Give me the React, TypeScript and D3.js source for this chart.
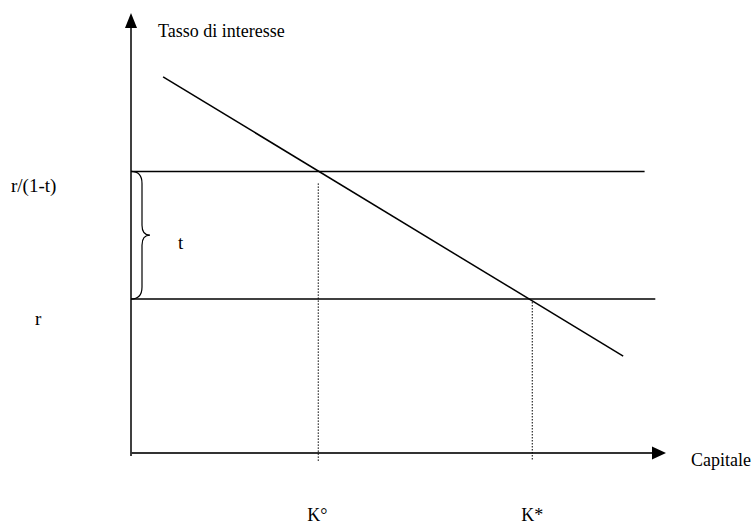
import React from "react";
import * as d3 from "d3";

// Conceptual units (0–100 on both axes)
const levelLabels = ["r/(1-t)", "r"];
const levelValues = [64, 35];          // r/(1-t), r
const levelEnds = [96, 98];            // where each horizontal line stops
const kLabels = ["K°", "K*"];
const kValues = [35, 75];
const demandX = [6, 92];
const demandY = [85.5, 22];
const axisLabelY = "Tasso di interesse";
const axisLabelX = "Capitale";
const braceLabel = "t";

const W = 754;
const H = 528;
const FONT = "'Liberation Serif', 'Times New Roman', Times, serif";

export default function App() {
  const x = d3.scaleLinear().domain([0, 100]).range([131, 666]);
  const y = d3.scaleLinear().domain([0, 100]).range([453, 13]);

  const demand = d3.line<number>()
    .x((_, i) => x(demandX[i]))
    .y((d) => y(d))(demandY) as string;

  const yTop = y(levelValues[0]);
  const yBot = y(levelValues[1]);
  const bx0 = x(0);
  const bmid = (yTop + yBot) / 2;
  const bw = 11;
  const tipX = bx0 + 19;
  const brace = `M${bx0},${yTop} Q${bx0 + bw},${yTop} ${bx0 + bw},${yTop + 12} L${bx0 + bw},${bmid - 10} Q${bx0 + bw},${bmid} ${tipX},${bmid} Q${bx0 + bw},${bmid} ${bx0 + bw},${bmid + 10} L${bx0 + bw},${yBot - 12} Q${bx0 + bw},${yBot} ${bx0},${yBot}`;

  const x0 = x(0);
  const y0 = y(0);
  const yTip = y(100);
  const xTip = x(100);

  return (
    <svg width={W} height={H} style={{ position: "absolute", left: 0, top: 0, background: "#fff" }}
      fontFamily={FONT}>
      {/* Y axis */}
      <line x1={x0} x2={x0} y1={y0 + 3} y2={yTip + 12} stroke="#000" strokeWidth={1.5} />
      <path d={`M${x0},${yTip} L${x0 - 6},${yTip + 15} L${x0 + 6},${yTip + 15} Z`} fill="#000" />
      {/* X axis */}
      <line x1={x0} x2={xTip - 10} y1={y0} y2={y0} stroke="#333" strokeWidth={2} />
      <path d={`M${xTip},${y0} L${xTip - 14},${y0 - 6.5} L${xTip - 14},${y0 + 6.5} Z`} fill="#000" />

      {/* horizontal levels */}
      {levelValues.map((v, i) => (
        <line key={i} x1={x0} x2={x(levelEnds[i])} y1={y(v)} y2={y(v)} stroke="#000" strokeWidth={1.5} />
      ))}

      {/* demand line */}
      <path d={demand} fill="none" stroke="#000" strokeWidth={1.5} />

      {/* dotted verticals */}
      {kValues.map((k, i) => (
        <line key={i} x1={x(k)} x2={x(k)} y1={y(levelValues[i]) + (i === 0 ? 12 : 3)} y2={y0 + 8}
          stroke="#000" strokeWidth={1} strokeDasharray="1.5,1.5" />
      ))}

      {/* brace */}
      <path d={brace} fill="none" stroke="#000" strokeWidth={1.2} />
      <text x={178} y={bmid + 14} fontSize={19}>{braceLabel}</text>

      {/* labels */}
      <text x={158} y={37} fontSize={18}>{axisLabelY}</text>
      <text x={691} y={466} fontSize={18}>{axisLabelX}</text>
      <text x={11} y={yTop + 21} fontSize={19}>{levelLabels[0]}</text>
      <text x={35} y={yBot + 26} fontSize={19}>{levelLabels[1]}</text>
      {kValues.map((k, i) => (
        <text key={i} x={x(k) - 11} y={521} fontSize={18}>{kLabels[i]}</text>
      ))}
    </svg>
  );
}
